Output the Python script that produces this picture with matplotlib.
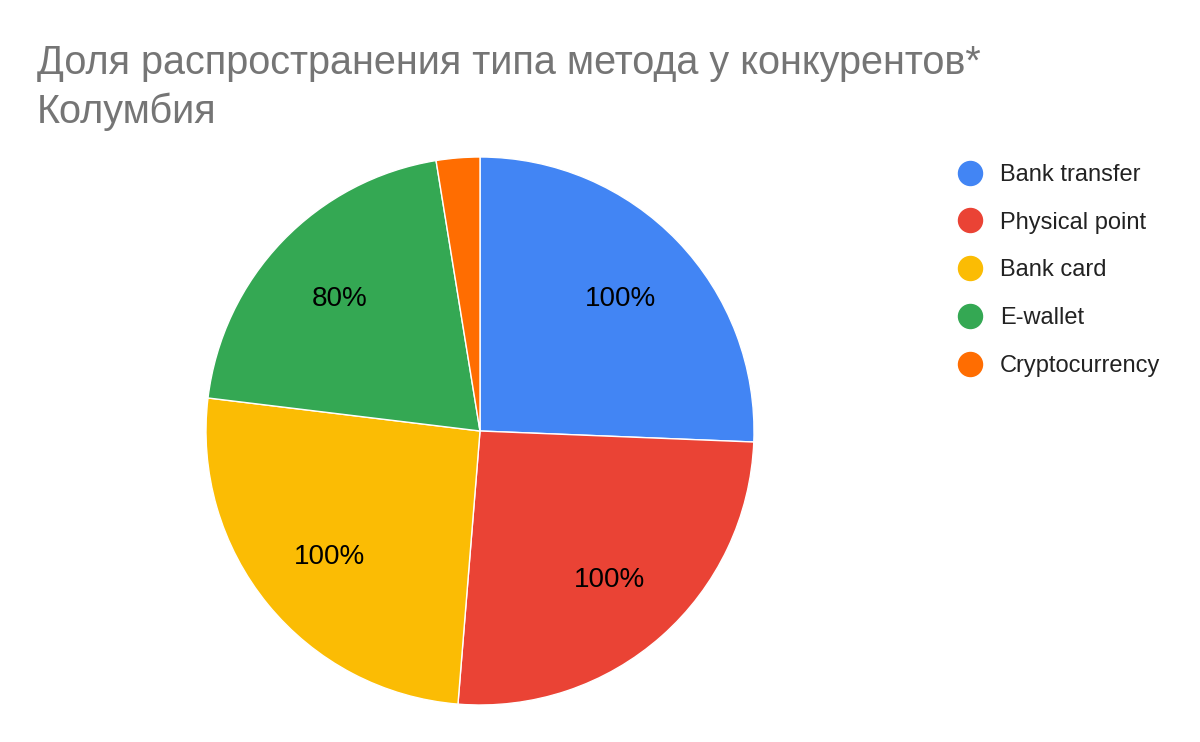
import matplotlib
matplotlib.use("Agg")
import matplotlib.pyplot as plt
from matplotlib.lines import Line2D

plt.rcParams['font.family'] = ['Liberation Sans', 'DejaVu Sans']

title_lines = ["Доля распространения типа метода у конкурентов*", "Колумбия"]
categories = ["Bank transfer", "Physical point", "Bank card", "E-wallet", "Cryptocurrency"]
values = [100, 100, 100, 80, 10]
colors = ["#4285F4", "#EA4335", "#FBBC04", "#34A853", "#FF6D01"]

W, H = 1200, 742
fig = plt.figure(figsize=(W / 100, H / 100), dpi=100)
cx, cy, r = 480, 431, 274
ax = fig.add_axes([(cx - r) / W, (H - cy - r) / H, 2 * r / W, 2 * r / H])
total = sum(values)

def fmt(p):
    v = p * total / 100
    return f"{v:.0f}%" if p > 5 else ""

wedges, texts, autotexts = ax.pie(
    values, colors=colors, startangle=90, counterclock=False,
    autopct=fmt, pctdistance=0.71,
    wedgeprops=dict(edgecolor="white", linewidth=1),
    textprops=dict(fontsize=20, color="#000000"))
for t in autotexts:
    t.set_va("center_baseline")
ax.set_aspect("equal")
ax.set_xlim(-1, 1)
ax.set_ylim(-1, 1)

for i, line in enumerate(title_lines):
    fig.text(37 / W, 1 - (74 + 49 * i) / H, line, fontsize=28.5, color="#757575",
             ha="left", va="baseline")

handles = [Line2D([0], [0], marker="o", linestyle="none", markersize=17.3,
                  markerfacecolor=c, markeredgecolor=c) for c in colors]
fig.legend(handles, categories, loc="upper left",
           bbox_to_anchor=(963 / W, 1 - 164 / H), frameon=False,
           fontsize=17, labelspacing=1.09, handletextpad=0.97,
           handlelength=0.6, borderpad=0, borderaxespad=0,
           labelcolor="#222222")

fig.savefig("out.png", dpi=100)
